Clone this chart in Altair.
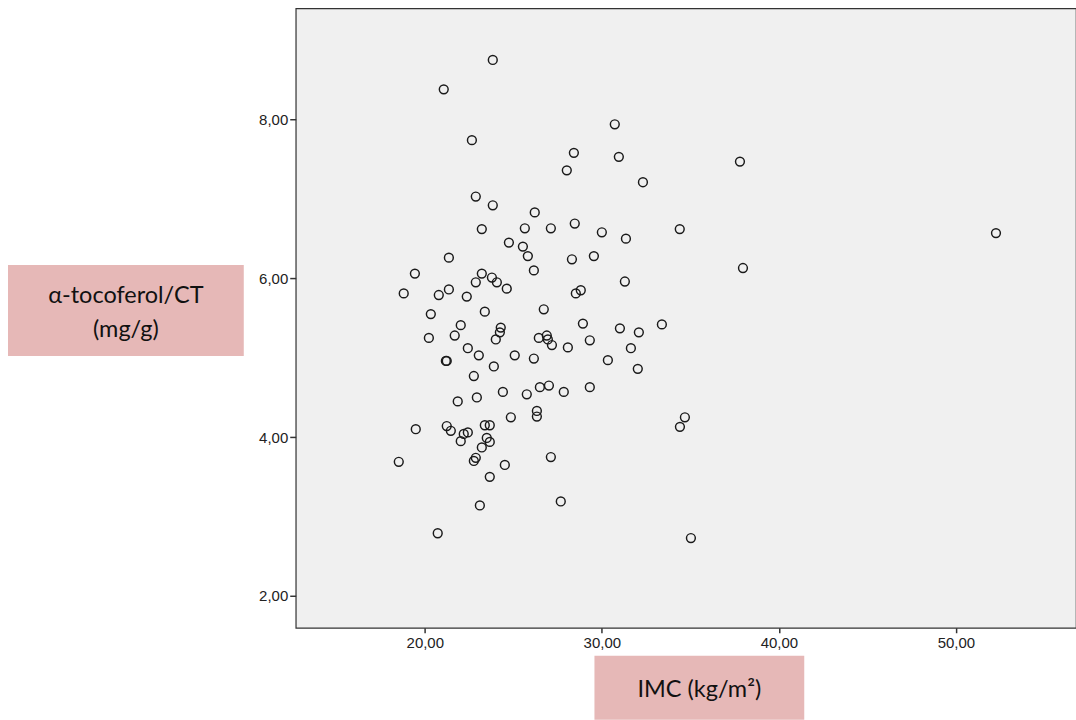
import altair as alt
import pandas as pd

# IMC (kg/m2) values
imc = [23.84, 21.07, 22.66, 30.73, 28.42, 30.96, 28.02, 37.80, 32.32, 22.88,
       23.84, 26.21, 28.47, 23.22, 25.65, 27.12, 30.00, 34.40, 31.36, 24.75,
       25.54, 29.55, 25.82, 21.36, 28.31, 26.16, 37.97, 19.44, 23.22, 23.79,
       22.88, 24.07, 31.30, 24.63, 21.36, 18.81, 20.79, 22.37, 28.81, 28.53,
       26.72, 23.39, 20.34, 22.03, 28.93, 33.39, 24.29, 31.02, 24.24, 32.09,
       21.69, 20.23, 26.89, 26.95, 24.01, 26.44, 29.32, 27.18, 22.43, 31.64,
       28.08, 25.08, 23.05, 26.16, 30.34, 21.19, 21.24, 23.90, 32.03, 22.77,
       27.01, 26.50, 29.32, 24.41, 27.85, 25.76, 22.94, 21.86, 26.33, 26.33,
       24.86, 34.69, 34.41, 21.24, 23.39, 23.67, 19.49, 21.47, 22.43, 22.20,
       23.50, 22.03, 23.67, 23.22, 22.88, 22.77, 27.12, 18.53, 24.52, 23.67,
       27.68, 23.11, 20.73, 35.03, 52.26]

# alpha-tocoferol/CT (mg/g) values
toco = [8.75, 8.38, 7.74, 7.94, 7.58, 7.53, 7.36, 7.47, 7.21, 7.03,
        6.92, 6.83, 6.69, 6.62, 6.63, 6.63, 6.58, 6.62, 6.50, 6.45,
        6.40, 6.28, 6.28, 6.26, 6.24, 6.10, 6.13, 6.06, 6.06, 6.01,
        5.95, 5.95, 5.96, 5.87, 5.86, 5.81, 5.79, 5.77, 5.85, 5.81,
        5.61, 5.58, 5.55, 5.41, 5.43, 5.42, 5.38, 5.37, 5.32, 5.32,
        5.28, 5.25, 5.28, 5.23, 5.23, 5.25, 5.22, 5.16, 5.12, 5.12,
        5.13, 5.03, 5.03, 4.99, 4.97, 4.96, 4.96, 4.89, 4.86, 4.77,
        4.65, 4.63, 4.63, 4.57, 4.57, 4.54, 4.50, 4.45, 4.33, 4.26,
        4.25, 4.25, 4.13, 4.14, 4.15, 4.15, 4.10, 4.08, 4.06, 4.04,
        3.99, 3.95, 3.94, 3.87, 3.74, 3.70, 3.75, 3.69, 3.65, 3.50,
        3.19, 3.14, 2.79, 2.73, 6.57]

x_ticks = [20, 30, 40, 50]
y_ticks = [2, 4, 6, 8]
y_title = ["α-tocoferol/CT\n(mg/g)"]
x_title = ["IMC (kg/m²)"]

df = pd.DataFrame({"imc": imc, "toco": toco})

label_expr = "replace(format(datum.value, '.2f'), '.', ',')"

points = alt.Chart(df).mark_point(
    shape="circle", filled=False, size=78, strokeWidth=1.45, color="#1a1a1a", opacity=1
).encode(
    x=alt.X("imc:Q", scale=alt.Scale(domain=[12.71, 56.78], nice=False, zero=False),
            axis=alt.Axis(values=x_ticks, title=None, grid=False, domain=False,
                          labelExpr=label_expr, tickSize=5, tickColor="#333",
                          tickWidth=1.5,
                          labelColor="#222", labelFont="Liberation Sans",
                          labelFontSize=15, labelPadding=3)),
    y=alt.Y("toco:Q", scale=alt.Scale(domain=[1.60, 9.40], nice=False, zero=False),
            axis=alt.Axis(values=y_ticks, title=None, grid=False, domain=False,
                          labelExpr=label_expr, tickSize=6, tickColor="#333",
                          tickWidth=1.5,
                          labelColor="#222", labelFont="Liberation Sans",
                          labelFontSize=15, labelPadding=2)),
)

ybox = alt.Chart(pd.DataFrame({"t": y_title})).mark_rect(
    color="#E6B8B7", clip=False
).encode(x=alt.value(-288), x2=alt.value(-52), y=alt.value(257), y2=alt.value(348))

ytext = alt.Chart(pd.DataFrame({"t": y_title})).mark_text(
    font="Lato", fontSize=23.5, color="#111", lineBreak="\n", align="center",
    baseline="middle", lineHeight=34, clip=False
).encode(text="t:N", x=alt.value(-170), y=alt.value(288))

xbox = alt.Chart(pd.DataFrame({"t": x_title})).mark_rect(
    color="#E6B8B7", clip=False
).encode(x=alt.value(299), x2=alt.value(509), y=alt.value(648), y2=alt.value(712))

xtext = alt.Chart(pd.DataFrame({"t": x_title})).mark_text(
    font="Lato", fontSize=23.5, color="#111", align="center", baseline="middle", clip=False
).encode(text="t:N", x=alt.value(404), y=alt.value(682))

chart = alt.layer(points, ybox, ytext, xbox, xtext).properties(
    width=781, height=620,
    autosize=alt.AutoSizeParams(type="none"),
    padding={"left": 296, "top": 8, "right": 0, "bottom": 92},
    background="white",
).configure_view(
    fill="#F0F0F0", stroke="#333", strokeWidth=1.2
)

chart.save("out.html", embed_options={"renderer": "svg", "actions": False})
